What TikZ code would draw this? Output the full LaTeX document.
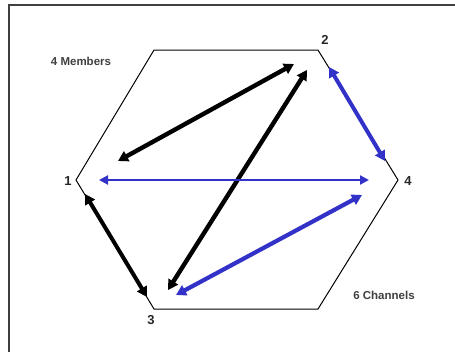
\documentclass[tikz,border=0pt]{standalone}
\usepackage{fontspec}
\setmainfont{Liberation Sans}
\usetikzlibrary{arrows.meta}
\definecolor{chblue}{RGB}{50,50,200}
\begin{document}
\begin{tikzpicture}[x=1pt,y=-1pt,
  hex/.style={draw=black,line width=1pt},
  thick arrow/.style={line width=4.4pt,{Triangle[length=10pt,width=11pt]}-{Triangle[length=10pt,width=11pt]}},
  thin arrow/.style={line width=2.2pt,{Triangle[length=9pt,width=9pt]}-{Triangle[length=9pt,width=9pt]}},
  vlabel/.style={font=\bfseries\fontsize{13}{15}\selectfont,inner sep=0pt,text=black!85},
  note/.style={font=\bfseries\fontsize{11.5}{13}\selectfont,text=black!75,inner sep=0pt}]
\useasboundingbox (0,0) rectangle (455,351);
\begin{scope}
\clip (0,0) rectangle (455,351);
\draw[line width=1.8pt,draw=black!75] (9,5) rectangle (470,370);
\end{scope}
% hexagon
\coordinate (tl) at (154,50);
\coordinate (tr) at (318,50);
\coordinate (r) at (398,180);
\coordinate (br) at (318,309);
\coordinate (bl) at (154,309);
\coordinate (l) at (76,180);
\draw[hex] (tl) -- (tr) -- (r) -- (br) -- (bl) -- (l) -- cycle;
% labels
\node[vlabel] (n2) at (325,40) {2};
\node[vlabel] (n4) at (408,181) {4};
\node[vlabel] (n1) at (68,181) {1};
\node[vlabel] (n3) at (151,320) {3};
\node[note] (mem) at (81,61) {4 Members};
\node[note] (chan) at (384,295) {6 Channels};
% arrow end points
\coordinate (a12a) at (118,161);
\coordinate (a12b) at (294,64);
\coordinate (a23a) at (307,70);
\coordinate (a23b) at (168,290);
\coordinate (a13a) at (85,194);
\coordinate (a13b) at (147,297);
\coordinate (a14a) at (99,180);
\coordinate (a14b) at (369,180);
\coordinate (a24a) at (329,67);
\coordinate (a24b) at (385,161);
\coordinate (a34a) at (176,295);
\coordinate (a34b) at (362,195);
% channels
\draw[thick arrow] (a12a) -- (a12b);
\draw[thick arrow] (a23a) -- (a23b);
\draw[thick arrow,line width=4pt] (a13a) -- (a13b);
\draw[thin arrow,draw=chblue,fill=chblue] (a14a) -- (a14b);
\draw[thick arrow,line width=4pt,draw=chblue,fill=chblue] (a24a) -- (a24b);
\draw[thick arrow,line width=4.2pt,draw=chblue,fill=chblue] (a34a) -- (a34b);
\end{tikzpicture}
\end{document}
